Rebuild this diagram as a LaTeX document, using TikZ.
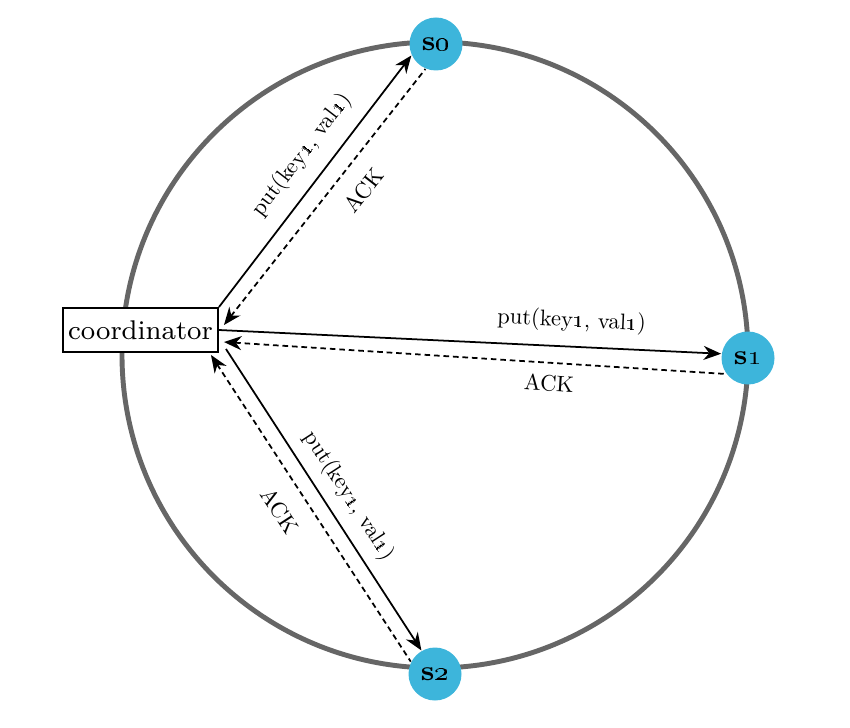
\documentclass[tikz,border=0pt]{standalone}
\usetikzlibrary{arrows.meta}
\definecolor{ringgray}{HTML}{666666}
\definecolor{serverblue}{HTML}{3DB5DB}
\begin{document}
\begin{tikzpicture}[
  server/.style={circle,fill=serverblue,inner sep=0pt,minimum size=0.53cm,font=\fontsize{8}{9}\selectfont\bfseries},
  req/.style={line width=0.5pt,-{Stealth[length=5pt,width=4pt]}},
  ack/.style={line width=0.5pt,dash pattern=on 1.6pt off 1.1pt,{Stealth[length=5pt,width=4pt]}-},
  lbl/.style={sloped,scale=0.64}]
  \useasboundingbox (0,0) rectangle (8.5,7.27);
  \draw[ringgray,line width=1.4pt] (4.35,3.72) circle (3.13cm);
  \node[draw,line width=0.55pt,fill=white,minimum width=1.55cm,minimum height=0.44cm,inner sep=0pt,font=\fontsize{7.7}{9}\selectfont] (coord) at (1.405,3.97) {coordinator};
  \node[server] (s0) at (4.36,6.83) {s\oldstylenums{0}};
  \node[server] (s1) at (7.48,3.69) {s\oldstylenums{1}};
  \node[server] (s2) at (4.35,0.53) {s\oldstylenums{2}};
  \draw[req] (coord.north east) -- node[lbl,pos=0.54,above=3.1pt] {put(key\oldstylenums{1}, val\oldstylenums{1})} (s0.205);
  \draw[ack] ([shift={(0.05,0.05)}]coord.east) -- node[lbl,pos=0.59,below=4.6pt] {ACK} (s0.247);
  \draw[req] (coord.east) -- node[lbl,pos=0.70,above=2.7pt] {put(key\oldstylenums{1}, val\oldstylenums{1})} (s1.171);
  \draw[ack] ([shift={(0.05,-0.12)}]coord.east) -- node[lbl,pos=0.65,below=1.9pt] {ACK} (s1.216);
  \draw[req] ([shift={(0.07,0.04)}]coord.south east) -- node[lbl,pos=0.53,above=1.7pt] {put(key\oldstylenums{1}, val\oldstylenums{1})} (s2.120);
  \draw[ack] ([shift={(-0.08,-0.02)}]coord.south east) -- node[lbl,pos=0.46,below=4.8pt] {ACK} (s2.153);
\end{tikzpicture}
\end{document}
